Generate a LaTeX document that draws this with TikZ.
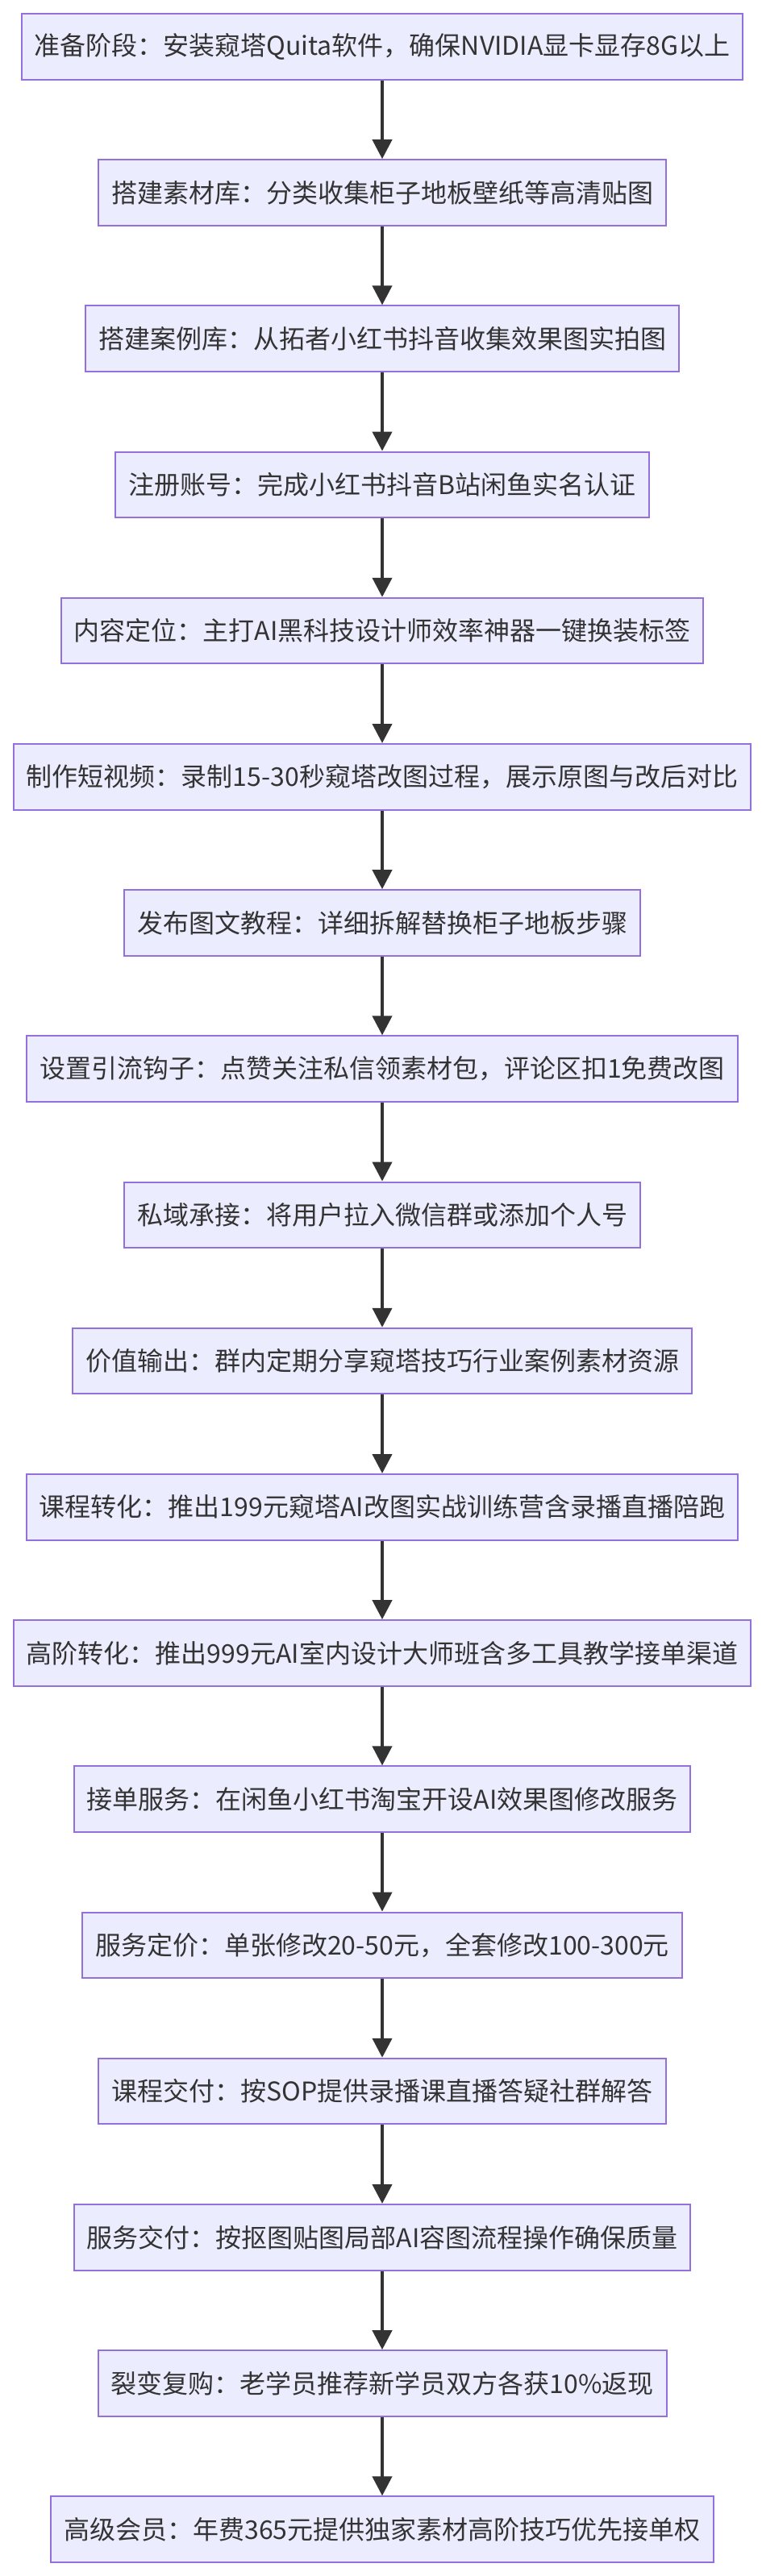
\documentclass[tikz,border=0pt]{standalone}
\usepackage{fontspec}
\newfontfamily\cjk{Noto Sans CJK SC}
\usepackage{tikz}
\usetikzlibrary{positioning, arrows.meta}
\usepackage{xcolor}
\definecolor{boxfill}{HTML}{ECECFF}
\definecolor{boxline}{HTML}{9370DB}
\definecolor{inkgray}{HTML}{333333}

\begin{document}
\begin{tikzpicture}[node distance=90.6pt, on grid,
  stage/.style={rectangle, fill=boxfill, draw=boxline, line width=1pt,
    minimum height=40.75pt, inner xsep=8pt, text=inkgray,
    font=\cjk\fontsize{16pt}{20pt}\selectfont},
  flow/.style={draw=inkgray, line width=2pt, -{Triangle[length=12pt, width=12pt]}}
]
  \useasboundingbox (0,0) rectangle (472pt,-1598pt);

  % Preparation
  \node[stage] (prep) at (237pt,-28.875pt) {准备阶段：安装窥塔Quita软件，确保NVIDIA显卡显存8G以上};
  \node[stage, below=of prep] (assets) {搭建素材库：分类收集柜子地板壁纸等高清贴图};
  \node[stage, below=of assets] (cases) {搭建案例库：从拓者小红书抖音收集效果图实拍图};
  \node[stage, below=of cases] (accounts) {注册账号：完成小红书抖音B站闲鱼实名认证};

  % Content and traffic
  \node[stage, below=of accounts] (position) {内容定位：主打AI黑科技设计师效率神器一键换装标签};
  \node[stage, below=of position] (video) {制作短视频：录制15-30秒窥塔改图过程，展示原图与改后对比};
  \node[stage, below=of video] (tutorial) {发布图文教程：详细拆解替换柜子地板步骤};
  \node[stage, below=of tutorial] (hook) {设置引流钩子：点赞关注私信领素材包，评论区扣1免费改图};
  \node[stage, below=of hook] (private) {私域承接：将用户拉入微信群或添加个人号};
  \node[stage, below=of private] (value) {价值输出：群内定期分享窥塔技巧行业案例素材资源};

  % Monetisation
  \node[stage, below=of value] (course) {课程转化：推出199元窥塔AI改图实战训练营含录播直播陪跑};
  \node[stage, below=of course] (advanced) {高阶转化：推出999元AI室内设计大师班含多工具教学接单渠道};
  \node[stage, below=of advanced] (orders) {接单服务：在闲鱼小红书淘宝开设AI效果图修改服务};
  \node[stage, below=of orders] (pricing) {服务定价：单张修改20-50元，全套修改100-300元};
  \node[stage, below=of pricing] (deliver) {课程交付：按SOP提供录播课直播答疑社群解答};
  \node[stage, below=of deliver] (service) {服务交付：按抠图贴图局部AI容图流程操作确保质量};
  \node[stage, below=of service] (referral) {裂变复购：老学员推荐新学员双方各获10\%返现};
  \node[stage, below=of referral] (member) {高级会员：年费365元提供独家素材高阶技巧优先接单权};

  % Arrows
  \draw[flow] (prep) -- (assets);
  \draw[flow] (assets) -- (cases);
  \draw[flow] (cases) -- (accounts);
  \draw[flow] (accounts) -- (position);
  \draw[flow] (position) -- (video);
  \draw[flow] (video) -- (tutorial);
  \draw[flow] (tutorial) -- (hook);
  \draw[flow] (hook) -- (private);
  \draw[flow] (private) -- (value);
  \draw[flow] (value) -- (course);
  \draw[flow] (course) -- (advanced);
  \draw[flow] (advanced) -- (orders);
  \draw[flow] (orders) -- (pricing);
  \draw[flow] (pricing) -- (deliver);
  \draw[flow] (deliver) -- (service);
  \draw[flow] (service) -- (referral);
  \draw[flow] (referral) -- (member);
\end{tikzpicture}
\end{document}
